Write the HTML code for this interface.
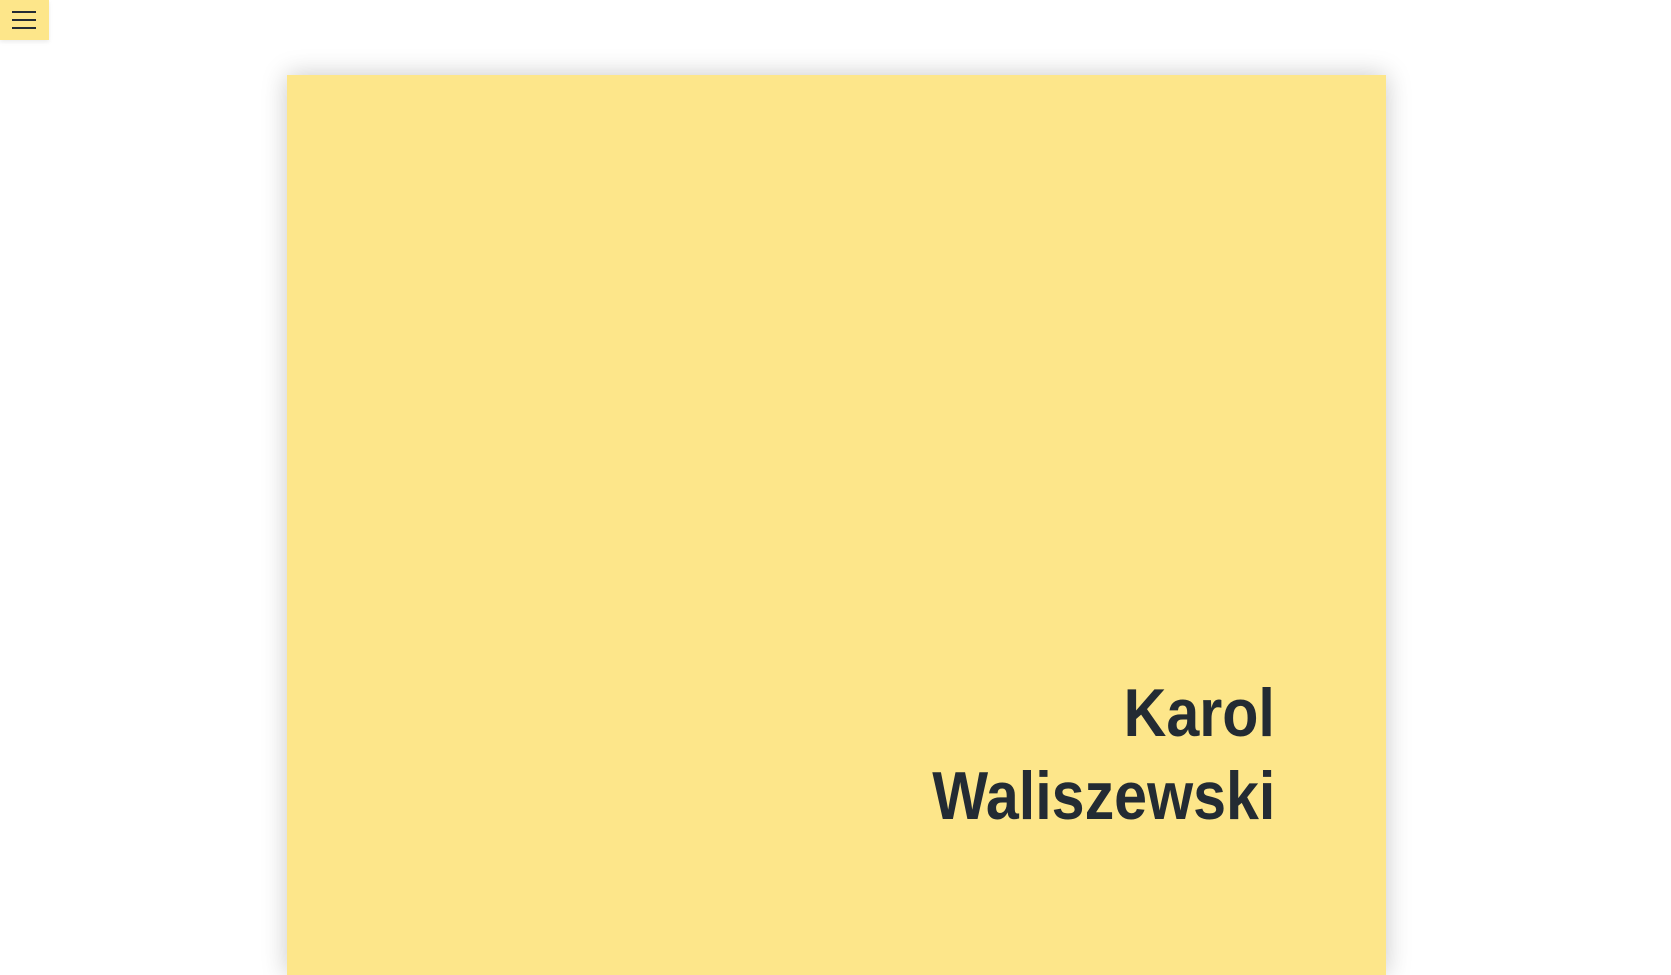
<!DOCTYPE html>
<html><head><meta charset="utf-8"><style>
html,body{margin:0;padding:0;width:1671px;height:890px;overflow:hidden;background:#fff;font-family:"Liberation Sans",sans-serif;}
#menu{position:absolute;left:0;top:0;width:49px;height:40px;background:#fde68a;box-shadow:0 2px 4px rgba(0,0,0,0.08);}
#menu span{position:absolute;left:12px;width:24px;height:2px;background:#232b33;}
#card{position:absolute;left:287px;top:75px;width:1099px;height:900px;background:#fde68a;box-shadow:0 0 24px rgba(0,0,0,0.22);}
.name{position:absolute;right:111px;font-weight:bold;font-size:68px;color:#232b33;transform:scaleX(0.87);transform-origin:right bottom;white-space:nowrap;line-height:1;}
</style></head><body>
<div id="menu"><span style="top:11px"></span><span style="top:19px"></span><span style="top:27px"></span></div>
<div id="card">
<div class="name" style="top:604px">Karol</div>
<div class="name" style="top:687px">Waliszewski</div>
</div>
</body></html>
